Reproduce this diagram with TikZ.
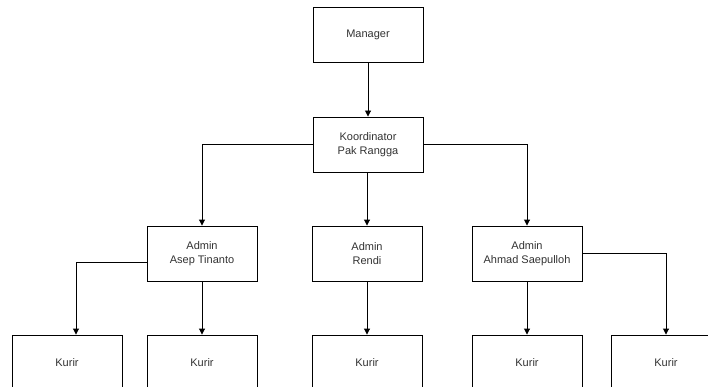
\documentclass[tikz,border=0pt]{standalone}
\usepackage{fontspec}
\setmainfont{Liberation Sans}
\usetikzlibrary{arrows.meta}
\begin{document}
\begin{tikzpicture}[x=1pt,y=-1pt,
  box/.style={draw=black,line width=0.9pt,fill=white,minimum width=110pt,minimum height=55pt,inner sep=0pt,align=center,font=\fontsize{11}{14}\selectfont,text=black!80},
  conn/.style={draw=black,line width=0.9pt,-{Triangle[length=6pt,width=6pt]}}]
\useasboundingbox (0,0) rectangle (708,387);
\clip (0,0) rectangle (708,387);
\node[box] (mgr) at (368,35) {Manager};
\node[box] (kor) at (368,144.5) {Koordinator\\Pak Rangga};
\node[box] (a1) at (202,253.5) {Admin\\Asep Tinanto};
\node[box] (a2) at (367,253.5) {Admin\\Rendi};
\node[box] (a3) at (527,253.5) {Admin\\Ahmad Saepulloh};
\node[box] (k1) at (67,362.5) {Kurir};
\node[box] (k2) at (202,362.5) {Kurir};
\node[box] (k3) at (367,362.5) {Kurir};
\node[box] (k4) at (527,362.5) {Kurir};
\node[box] (k5) at (666,362.5) {Kurir};
\draw[conn] (mgr.south -| kor.north) -- (kor.north);
\draw[conn] (kor.west) -| (a1.north);
\draw[conn] (kor.south -| a2.north) -- (a2.north);
\draw[conn] (kor.east) -| (a3.north);
\draw[conn] ([yshift=-8.5pt]a1.west) -| ([xshift=9pt]k1.north);
\draw[conn] (a1.south) -- (k2.north);
\draw[conn] (a2.south) -- (k3.north);
\draw[conn] (a3.south) -- (k4.north);
\draw[conn] (a3.east) -| (k5.north);
\end{tikzpicture}
\end{document}
